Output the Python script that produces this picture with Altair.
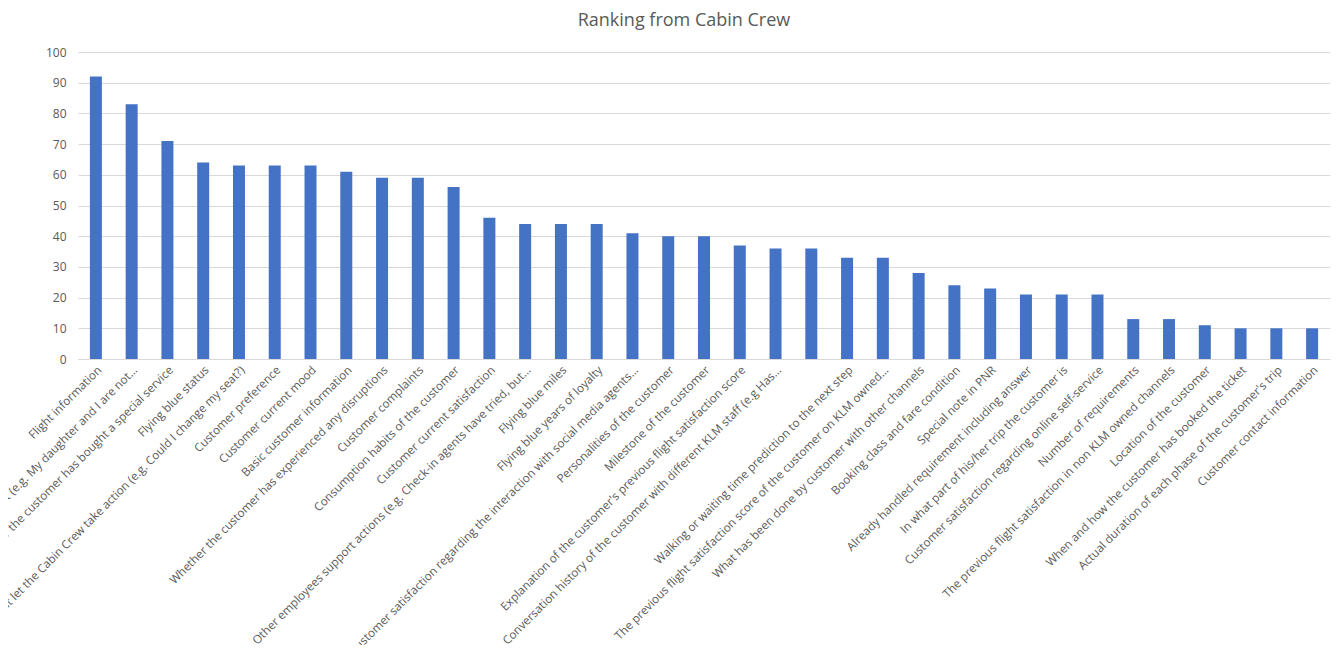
import altair as alt
import pandas as pd

categories = [
    "Flight information",
    "Customer specific request (e.g. My daughter and I are not…",
    "Whether the customer has bought a special service",
    "Flying blue status",
    "Requests that let the Cabin Crew take action (e.g. Could I change my seat?)",
    "Customer preference",
    "Customer current mood",
    "Basic customer information",
    "Whether the customer has experienced any disruptions",
    "Customer complaints",
    "Consumption habits of the customer",
    "Customer current satisfaction",
    "Other employees support actions (e.g. Check-in agents have tried, but…",
    "Flying blue miles",
    "Flying blue years of loyalty",
    "Customer satisfaction regarding the interaction with social media agents…",
    "Personalities of the customer",
    "Milestone of the customer",
    "Explanation of the customer's previous flight satisfaction score",
    "Conversation history of the customer with different KLM staff (e.g Has…",
    " ",
    "Walking or waiting time prediction to the next step",
    "The previous flight satisfaction score of the customer on KLM owned…",
    "What has been done by customer with other channels",
    "Booking class and fare condition",
    "Special note in PNR",
    "Already handled requirement including answer",
    "In what part of his/her trip the customer is",
    "Customer satisfaction regarding online self-service",
    "Number of requirements",
    "The previous flight satisfaction in non KLM owned channels",
    "Location of the customer",
    "When and how the customer has booked the ticket",
    "Actual duration of each phase of the customer's trip",
    "Customer contact information",
]

values = [92, 83, 71, 64, 63, 63, 63, 61, 59, 59, 56, 46, 44, 44, 44, 41, 40, 40,
          37, 36, 36, 33, 33, 28, 24, 23, 21, 21, 21, 13, 13, 11, 10, 10, 10]

y_ticks = [0, 10, 20, 30, 40, 50, 60, 70, 80, 90, 100]

df = pd.DataFrame({"item": categories, "score": values})

FONT = "Open Sans"
GREY = "#595959"

chart = (
    alt.Chart(df)
    .mark_bar(color="#4472C4", size=12)
    .encode(
        x=alt.X(
            "item:N",
            sort=categories,
            title=None,
            scale=alt.Scale(paddingInner=0, paddingOuter=0),
            axis=alt.Axis(
                labelAngle=-45,
                labelFont=FONT,
                labelFontSize=11.7,
                labelColor=GREY,
                labelLimit=1000,
                labelPadding=5,
                ticks=False,
                domainColor="#d9d9d9",
                domainWidth=1,
                grid=False,
            ),
        ),
        y=alt.Y(
            "score:Q",
            title=None,
            scale=alt.Scale(domain=[0, 100], nice=False),
            axis=alt.Axis(
                values=y_ticks,
                labelFont=FONT,
                labelFontSize=12,
                labelColor=GREY,
                labelPadding=12,
                ticks=False,
                domain=False,
                gridColor="#d9d9d9",
                gridWidth=1,
            ),
        ),
    )
    .properties(
        width=1252,
        height=307,
        title=alt.TitleParams(
            "Ranking from Cabin Crew",
            font=FONT,
            fontSize=18,
            fontWeight="normal",
            color=GREY,
            anchor="middle",
            offset=16,
            dx=-20,
        ),
        autosize=alt.AutoSizeParams(type="none"),
        padding={"left": 70, "top": 44, "right": 3, "bottom": 286},
    )
    .configure_view(stroke=None)
)

chart.save("out.html", embed_options={"renderer": "svg", "actions": False})
